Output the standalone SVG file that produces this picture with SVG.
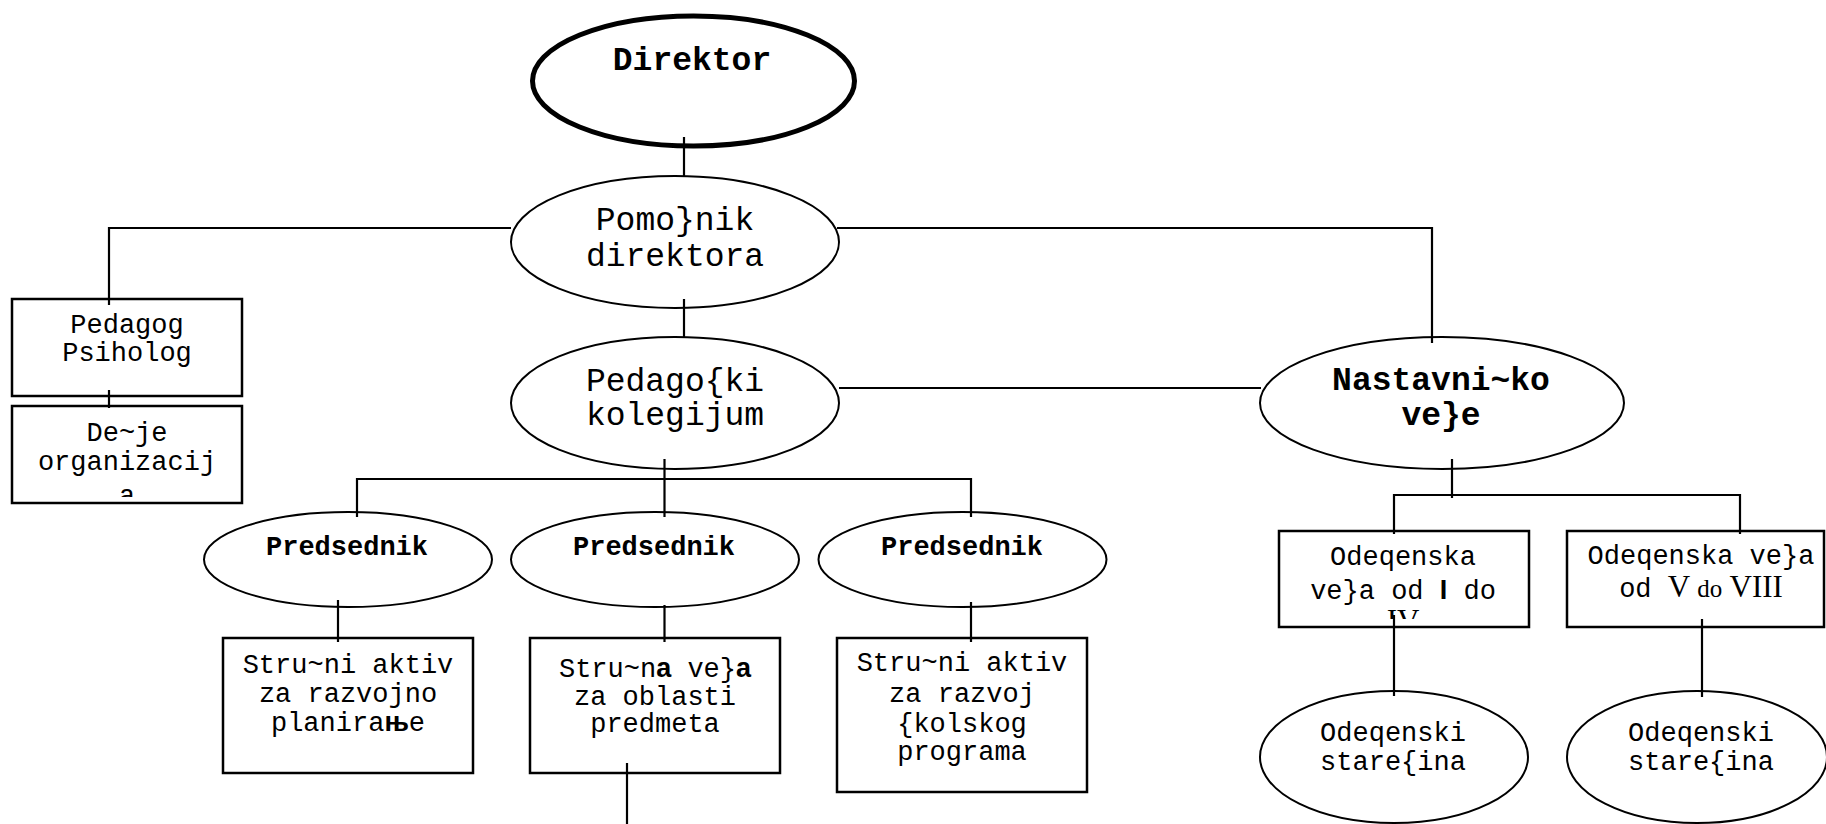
<svg xmlns="http://www.w3.org/2000/svg" width="1826" height="824" viewBox="0 0 1826 824">
<style>
.n{fill:#fff;stroke:#000;stroke-width:2}
.b{fill:#fff;stroke:#000;stroke-width:2.5}
.t{font-family:"Liberation Mono","Courier New",monospace;font-size:27px;fill:#000;text-anchor:middle}
.L{font-size:33px}
.bd{font-weight:bold}
.c{fill:none;stroke:#000;stroke-width:2.2}
.sb{font-family:"Liberation Sans",Arial,sans-serif;font-weight:bold}
.sf{font-family:"Liberation Serif","Times New Roman",serif;font-size:31px}
.sd{font-size:25px}
</style>
<defs>
<clipPath id="clipDeje"><rect x="12" y="406" width="230" height="91"/></clipPath>
<clipPath id="clipOd1"><rect x="1279" y="531" width="250" height="88"/></clipPath>
</defs>
<rect width="1826" height="824" fill="#fff"/>
<g id="direktor">
<ellipse cx="693.5" cy="81" rx="161" ry="65" fill="#fff" stroke="#000" stroke-width="5"/>
<text class="t L bd" x="692" y="70">Direktor</text>
</g>
<g id="pomocnik">
<ellipse class="n" cx="675" cy="242" rx="164" ry="66"/>
<text class="t L" x="675" y="230">Pomo}nik</text>
<text class="t L" x="675" y="266">direktora</text>
</g>
<g id="pedagog">
<rect class="b" x="12" y="299" width="230" height="97"/>
<text class="t" x="127" y="333">Pedagog</text>
<text class="t" x="127" y="361">Psiholog</text>
</g>
<g id="deje">
<rect class="b" x="12" y="406" width="230" height="97"/>
<g clip-path="url(#clipDeje)">
<text class="t" x="127" y="441">De~je</text>
<text class="t" x="127" y="470">organizacij</text>
<text class="t" x="127" y="504">a</text>
</g>
</g>
<g id="pedagoski">
<ellipse class="n" cx="675" cy="403" rx="164" ry="66"/>
<text class="t L" x="675" y="391">Pedago{ki</text>
<text class="t L" x="675" y="425">kolegijum</text>
</g>
<g id="nastavnicko">
<ellipse class="n" cx="1442" cy="403" rx="182" ry="66"/>
<text class="t L bd" x="1441" y="390">Nastavni~ko</text>
<text class="t L bd" x="1441" y="425">ve}e</text>
</g>
<g id="predsednik1">
<ellipse class="n" cx="348" cy="559.5" rx="144" ry="47.5"/>
<text class="t bd" x="347" y="555">Predsednik</text>
</g>
<g id="predsednik2">
<ellipse class="n" cx="655" cy="559.5" rx="144" ry="47.5"/>
<text class="t bd" x="654" y="555">Predsednik</text>
</g>
<g id="predsednik3">
<ellipse class="n" cx="962.5" cy="559.5" rx="144" ry="47.5"/>
<text class="t bd" x="962" y="555">Predsednik</text>
</g>
<g id="aktiv1">
<rect class="b" x="223" y="638" width="250" height="135"/>
<text class="t" x="348" y="673">Stru~ni aktiv</text>
<text class="t" x="348" y="702">za razvojno</text>
<text class="t" x="348" y="731">planira<tspan class="sb">њ</tspan>e</text>
</g>
<g id="veca">
<rect class="b" x="530" y="638" width="250" height="135"/>
<text class="t" x="655" y="677">Stru~n<tspan class="sb">a</tspan> ve}<tspan class="sb">a</tspan></text>
<text class="t" x="655" y="705">za oblasti</text>
<text class="t" x="655" y="732">predmeta</text>
</g>
<g id="aktiv2">
<rect class="b" x="837" y="638" width="250" height="154"/>
<text class="t" x="962" y="671">Stru~ni aktiv</text>
<text class="t" x="962" y="702">za razvoj</text>
<text class="t" x="962" y="732">{kolskog</text>
<text class="t" x="962" y="760">programa</text>
</g>
<g id="odeljenska1">
<rect class="b" x="1279" y="531" width="250" height="96"/>
<g clip-path="url(#clipOd1)">
<text class="t" x="1403" y="565">Odeqenska</text>
<text class="t" x="1403" y="599">ve}a od <tspan class="sb">I</tspan> do</text>
<text class="t sf" x="1403" y="631">IV</text>
</g>
</g>
<g id="odeljenska2">
<rect class="b" x="1567" y="531" width="257" height="96"/>
<text class="t" x="1701" y="564">Odeqenska ve}a</text>
<text class="t" x="1701" y="597">od <tspan class="sf">V <tspan class="sd">do</tspan> VIII</tspan></text>
</g>
<g id="staresina1">
<ellipse class="n" cx="1394" cy="757" rx="134" ry="66"/>
<text class="t" x="1393" y="741">Odeqenski</text>
<text class="t" x="1393" y="770">stare{ina</text>
</g>
<g id="staresina2">
<ellipse class="n" cx="1697" cy="757" rx="130" ry="66"/>
<text class="t" x="1701" y="741">Odeqenski</text>
<text class="t" x="1701" y="770">stare{ina</text>
</g>
<g id="connectors">
<path class="c" d="M684 137V177"/>
<path class="c" d="M511 228H109V305"/>
<path class="c" d="M837 228H1432V343"/>
<path class="c" d="M684 299V338"/>
<path class="c" d="M109 390V408"/>
<path class="c" d="M839 388H1261"/>
<path class="c" d="M664.5 459V517M357 517V479H971V517"/>
<path class="c" d="M338 600V642M664.5 605V642M971 602V642"/>
<path class="c" d="M627 763V824"/>
<path class="c" d="M1452 459V498M1394 534V495H1740V534"/>
<path class="c" d="M1394 615V696"/>
<path class="c" d="M1702 619V697"/>
</g>
</svg>
